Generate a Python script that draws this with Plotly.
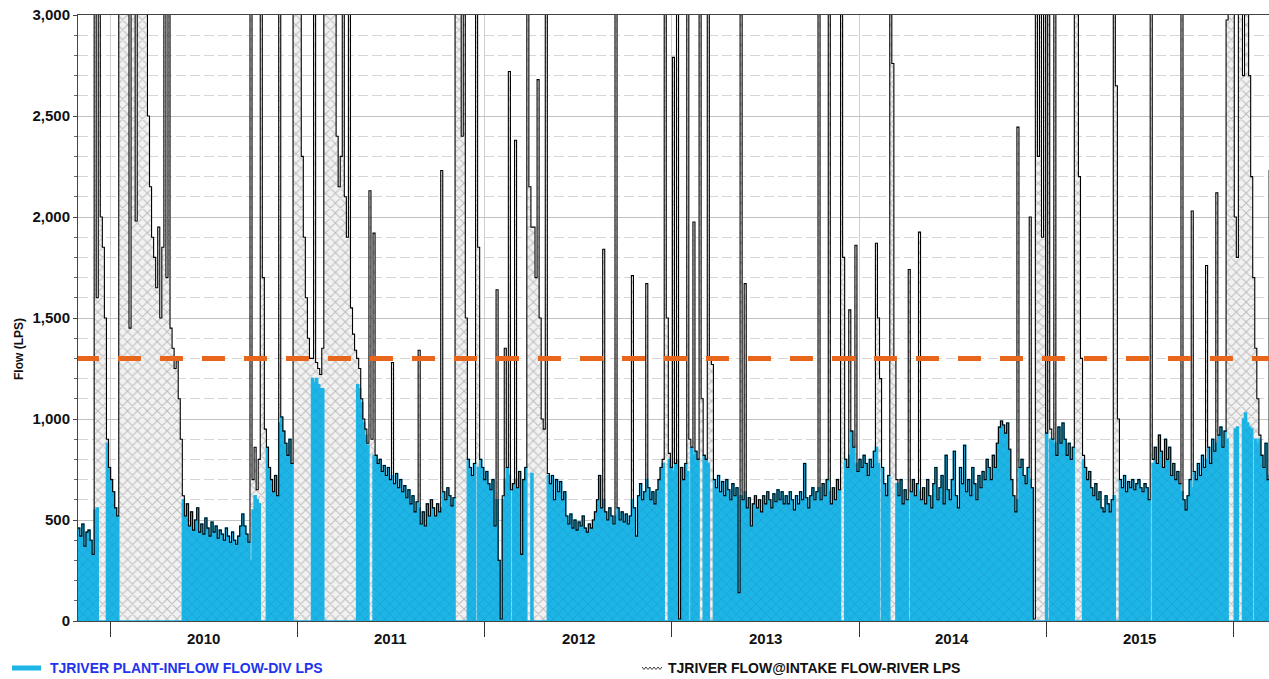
import pandas as pd
import plotly.graph_objects as go

# Daily flows sampled every 4 days, starting 2009-10-30 (litres per second)
start_date = "2009-10-30"
sample_step = "4D"

river_flow = [
    460, 420, 480, 370, 440, 450, 400, 330, 6000, 1600,
    9000, 2000, 1850, 1500, 900, 760, 700, 640, 560, 520,
    6000, 12000, 8000, 5000, 4000, 1450, 3800, 4500, 1980, 5000,
    7000, 4200, 3500, 3100, 2500, 2150, 1900, 1800, 1650, 1950,
    1500, 1850, 5000, 1700, 6000, 1450, 1350, 1250, 1300, 1100,
    900, 620, 520, 580, 470, 540, 450, 500, 560, 440,
    480, 430, 510, 460, 420, 490, 440, 470, 410, 450,
    430, 400, 460, 420, 390, 440, 400, 380, 420, 470,
    530, 470, 430, 390, 9000, 700, 860, 650, 800, 8000,
    1700, 950, 860, 760, 700, 640, 720, 620, 7000, 1010,
    940, 880, 820, 900, 780, 5000, 9000, 4500, 3300, 2300,
    1900, 1600, 1400, 1300, 1300, 9000, 1280, 1250, 1220, 1350,
    6000, 10000, 8000, 6500, 5000, 3800, 2400, 2150, 2300, 4000,
    2100, 1900, 4000, 1550, 1420, 1340, 1300, 1250, 1100, 1000,
    950, 880, 2130, 900, 1920, 820, 780, 800, 740, 770,
    720, 760, 700, 1280, 680, 730, 660, 700, 640, 670,
    610, 650, 580, 620, 540, 590, 1340, 480, 540, 470,
    580, 520, 600, 560, 520, 580, 540, 2230, 640, 600,
    660, 620, 570, 610, 7000, 10000, 4000, 2400, 8000, 1500,
    800, 760, 720, 780, 9000, 1850, 800, 760, 700, 740,
    680, 650, 700, 470, 1640, 300, 10, 620, 1350, 760,
    2720, 650, 680, 2380, 660, 740, 330, 700, 760, 8000,
    2150, 1950, 1950, 1700, 2680, 1500, 1000, 950, 9000, 730,
    680, 720, 600, 700, 640, 690, 600, 640, 520, 480,
    530, 460, 500, 450, 490, 470, 520, 460, 440, 480,
    460, 500, 540, 600, 720, 560, 1840, 540, 500, 560,
    520, 480, 9000, 560, 500, 540, 490, 530, 480, 520,
    1710, 560, 420, 620, 680, 600, 640, 1670, 660, 600,
    640, 580, 650, 700, 760, 800, 8000, 1500, 830, 760,
    2790, 780, 9000, 10, 760, 700, 780, 9000, 900, 860,
    1975, 840, 800, 9000, 1100, 820, 800, 9000, 1300, 1270,
    700, 660, 720, 640, 690, 620, 700, 650, 600, 680,
    620, 660, 140, 9000, 600, 1670, 560, 610, 470, 580,
    620, 560, 600, 540, 620, 580, 640, 600, 560, 630,
    590, 650, 600, 640, 580, 620, 580, 640, 600, 550,
    620, 580, 640, 600, 780, 610, 560, 620, 660, 600,
    640, 9000, 600, 680, 620, 700, 9000, 580, 660, 600,
    700, 650, 9000, 1800, 800, 760, 1540, 940, 860, 1860,
    740, 800, 760, 820, 780, 720, 800, 760, 840, 1870,
    1500, 1200, 760, 680, 620, 720, 9000, 2760, 1300, 700,
    620, 700, 580, 650, 600, 1740, 640, 700, 620, 680,
    1925, 600, 660, 580, 700, 620, 560, 680, 760, 600,
    660, 720, 580, 820, 650, 600, 700, 840, 620, 560,
    760, 680, 870, 640, 700, 620, 760, 680, 600, 720,
    660, 740, 700, 800, 760, 700, 820, 760, 880, 960,
    990, 970, 930, 980, 850, 700, 620, 540, 2445, 760,
    800, 720, 680, 760, 2000, 660, 10, 9000, 2300, 12000,
    1900, 9000, 930, 9000, 950, 900, 9000, 820, 960, 880,
    980, 900, 820, 880, 800, 860, 9000, 12000, 2200, 1300,
    820, 760, 700, 740, 660, 620, 680, 600, 640, 560,
    540, 620, 580, 540, 600, 9000, 2650, 1000, 700, 660,
    720, 640, 690, 660, 700, 650, 680, 700, 660, 640,
    680, 660, 600, 9000, 800, 860, 780, 920, 840, 760,
    900, 800, 860, 720, 780, 700, 740, 680, 9000, 600,
    550, 620, 700, 2030, 740, 700, 780, 720, 820, 760,
    1760, 860, 780, 900, 840, 2120, 920, 960, 860, 940,
    2975, 9000, 12000, 10000, 2000, 1800, 9000, 4000, 2700, 3500,
    9000, 2700, 2200, 1700, 1350, 1100, 920, 820, 760, 880,
    700, 2230, 640,
]

plant_inflow = [
    460, 420, 480, 370, 440, 450, 400, 330, 550, 560,
    0, 0, 0, 0, 880, 760, 700, 640, 560, 520,
    0, 0, 0, 0, 0, 0, 0, 0, 0, 0,
    0, 0, 0, 0, 0, 0, 0, 0, 0, 0,
    0, 0, 0, 0, 0, 0, 0, 0, 0, 0,
    0, 600, 520, 580, 470, 540, 450, 500, 560, 440,
    480, 430, 510, 460, 420, 490, 440, 470, 410, 450,
    430, 400, 460, 420, 390, 440, 400, 380, 420, 470,
    530, 470, 430, 390, 300, 550, 620, 600, 580, 0,
    0, 0, 860, 760, 700, 640, 720, 620, 980, 1010,
    940, 880, 820, 900, 780, 0, 0, 0, 0, 0,
    0, 0, 0, 0, 1200, 1180, 1200, 1170, 1150, 1150,
    0, 0, 0, 0, 0, 0, 0, 0, 0, 0,
    0, 0, 0, 0, 0, 0, 1170, 1150, 1080, 980,
    920, 870, 0, 0, 820, 820, 780, 800, 740, 770,
    720, 760, 700, 720, 680, 730, 660, 700, 640, 670,
    610, 650, 580, 620, 540, 590, 560, 480, 540, 470,
    580, 520, 600, 560, 520, 580, 540, 560, 640, 600,
    660, 620, 570, 610, 0, 0, 0, 0, 0, 0,
    800, 760, 720, 780, 0, 760, 800, 760, 700, 740,
    680, 650, 700, 470, 600, 300, 0, 600, 700, 760,
    720, 0, 680, 700, 660, 740, 330, 700, 760, 0,
    0, 730, 0, 0, 0, 0, 0, 0, 0, 720,
    680, 720, 600, 700, 640, 690, 600, 640, 520, 480,
    530, 460, 500, 450, 490, 470, 520, 460, 440, 480,
    460, 500, 540, 600, 720, 560, 600, 540, 500, 560,
    520, 480, 520, 560, 500, 540, 490, 530, 480, 520,
    600, 560, 420, 620, 680, 600, 640, 700, 660, 600,
    640, 580, 650, 700, 760, 780, 0, 0, 800, 760,
    740, 780, 800, 0, 760, 700, 780, 740, 0, 860,
    820, 840, 800, 0, 0, 820, 800, 780, 0, 0,
    700, 660, 720, 640, 690, 620, 700, 650, 600, 680,
    620, 660, 140, 620, 600, 640, 560, 610, 470, 580,
    620, 560, 600, 540, 620, 580, 640, 600, 560, 630,
    590, 650, 600, 640, 580, 620, 580, 640, 600, 550,
    620, 580, 640, 600, 780, 610, 560, 620, 660, 600,
    640, 660, 600, 680, 620, 700, 640, 580, 660, 600,
    700, 650, 0, 0, 800, 760, 820, 940, 860, 780,
    740, 800, 760, 820, 780, 720, 800, 760, 840, 860,
    780, 0, 760, 680, 620, 720, 0, 0, 0, 680,
    620, 700, 580, 650, 600, 0, 640, 700, 620, 680,
    640, 600, 660, 580, 700, 620, 560, 680, 760, 600,
    660, 720, 580, 820, 650, 600, 700, 840, 620, 560,
    760, 680, 870, 640, 700, 620, 760, 680, 600, 720,
    660, 740, 700, 800, 760, 700, 820, 760, 880, 960,
    990, 970, 930, 980, 850, 700, 620, 540, 600, 760,
    800, 720, 680, 760, 700, 660, 0, 0, 0, 0,
    0, 0, 930, 0, 900, 900, 880, 820, 960, 880,
    980, 900, 820, 880, 800, 860, 0, 0, 0, 0,
    800, 760, 700, 740, 660, 620, 680, 600, 640, 560,
    540, 620, 580, 540, 600, 620, 0, 0, 700, 660,
    720, 640, 690, 660, 700, 650, 680, 700, 660, 640,
    680, 660, 600, 0, 780, 860, 780, 920, 840, 760,
    900, 800, 860, 720, 780, 700, 740, 680, 640, 600,
    550, 620, 700, 660, 740, 700, 780, 720, 820, 760,
    800, 860, 780, 900, 840, 880, 920, 960, 860, 940,
    900, 0, 0, 0, 950, 960, 0, 0, 1000, 1030,
    980, 960, 950, 0, 900, 880, 900, 820, 760, 880,
    700, 720, 640,
]

diversion_limit = 1300
year_labels = ["2010", "2011", "2012", "2013", "2014", "2015"]
y_ticks = [0, 500, 1000, 1500, 2000, 2500, 3000]
x_range = ["2009-10-30 12:00", "2016-03-10 18:00"]

plant_name = "TJRIVER PLANT-INFLOW FLOW-DIV LPS"
river_name = "TJRIVER FLOW@INTAKE FLOW-RIVER LPS"

CYAN = "#1db4e6"
CYAN_HATCH = "#1592c2"
BLUE_TEXT = "#2233ee"
ORANGE = "#e8661c"
FONT = "Liberation Sans, Arial, sans-serif"

dates = pd.date_range(start_date, periods=len(river_flow), freq=sample_step)

fig = go.Figure()

# River flow: hatched area
fig.add_trace(go.Scatter(
    x=dates, y=river_flow, mode="lines", line_shape="hv",
    line=dict(width=0, color="#888"),
    fill="tozeroy", fillcolor="#eeeeee",
    fillpattern=dict(shape="x", fgcolor="#8c8c8c", bgcolor="#f2f2f2",
                     size=7, solidity=0.3),
    hoverinfo="skip", name=river_name, showlegend=False,
))

# Plant inflow: cyan hatched area
fig.add_trace(go.Scatter(
    x=dates, y=plant_inflow, mode="lines", line_shape="hv",
    line=dict(width=1.5, color=CYAN),
    fill="tozeroy", fillcolor=CYAN,
    fillpattern=dict(shape="x", fgcolor=CYAN_HATCH, bgcolor=CYAN,
                     size=7, solidity=0.22),
    name=plant_name, showlegend=False,
))

# River flow outline on top
fig.add_trace(go.Scatter(
    x=dates, y=river_flow, mode="lines", line_shape="hv",
    line=dict(width=1.1, color="#000000"),
    name=river_name, showlegend=False,
))

# Diversion limit
limit_x = [pd.Timestamp(x_range[0]) - pd.Timedelta(days=4), pd.Timestamp(x_range[1])]
fig.add_trace(go.Scatter(
    x=limit_x, y=[diversion_limit, diversion_limit], mode="lines",
    line=dict(color=ORANGE, width=5, dash="23px,19px"),
    hoverinfo="skip", showlegend=False,
))

PLOT_L, PLOT_R, PLOT_T, PLOT_B = 78, 1269, 15, 621


def px_x(x):
    return (x - PLOT_L) / (PLOT_R - PLOT_L)


def px_y(y):
    return (PLOT_B - y) / (PLOT_B - PLOT_T)


annotations = []
for label in year_labels:
    annotations.append(dict(
        x=f"{label}-07-02", xref="x", y=px_y(638), yref="paper",
        text=f"<b>{label}</b>", showarrow=False, yanchor="middle",
        font=dict(size=15, color="#111", family=FONT),
    ))

annotations.append(dict(
    x=px_x(19), xref="paper", y=px_y(349), yref="paper",
    text="<b>Flow (LPS)</b>", textangle=-90, showarrow=False,
    xanchor="center", yanchor="middle",
    font=dict(size=12, color="#111", family=FONT),
))

# Legend
annotations.append(dict(
    x=px_x(48), xref="paper", y=px_y(668), yref="paper",
    text=f"<b>{plant_name}</b>", showarrow=False,
    xanchor="left", yanchor="middle",
    font=dict(size=14, color=BLUE_TEXT, family=FONT),
))
annotations.append(dict(
    x=px_x(666), xref="paper", y=px_y(668), yref="paper",
    text=f"<b>{river_name}</b>", showarrow=False,
    xanchor="left", yanchor="middle",
    font=dict(size=14, color="#111", family=FONT),
))

zig = []
for k, xx in enumerate(range(642, 664, 2)):
    yy = 667 if k % 2 == 0 else 669.5
    zig.append(f"{'M' if k == 0 else 'L'}{px_x(xx):.5f},{px_y(yy):.5f}")

shapes = [
    dict(type="line", xref="paper", yref="paper",
         x0=px_x(12), x1=px_x(41), y0=px_y(668), y1=px_y(668),
         line=dict(color=CYAN, width=5)),
    dict(type="path", xref="paper", yref="paper", path=" ".join(zig),
         line=dict(color="#444", width=1)),
]

fig.update_layout(
    width=1269, height=679,
    margin=dict(l=PLOT_L, r=0, t=PLOT_T, b=679 - PLOT_B),
    paper_bgcolor="white", plot_bgcolor="white",
    showlegend=False,
    font=dict(family=FONT, color="#111"),
    annotations=annotations, shapes=shapes,
)

fig.update_xaxes(
    type="date", range=x_range,
    tick0="2010-01-01", dtick="M12",
    ticks="outside", ticklen=15, tickwidth=1, tickcolor="#333",
    showticklabels=False,
    showgrid=True, gridcolor="#cfcfcf", gridwidth=1,
    showline=True, linecolor="#444", linewidth=1, mirror=True,
    zeroline=False,
)

fig.update_yaxes(
    range=[0, 3000],
    tickvals=y_ticks, ticktext=[f"<b>{v:,}</b>" for v in y_ticks],
    tickfont=dict(size=15, color="#111", family=FONT),
    ticks="outside", ticklen=4, tickcolor="#444",
    showgrid=True, gridcolor="#c2c2c2", gridwidth=1,
    minor=dict(dtick=100, showgrid=True, gridcolor="#d6d6d6",
               griddash="10px,4px", ticks="outside", ticklen=3,
               tickcolor="#666"),
    showline=True, linecolor="#444", linewidth=1,
    zeroline=False,
)

fig.write_html("out.html")
